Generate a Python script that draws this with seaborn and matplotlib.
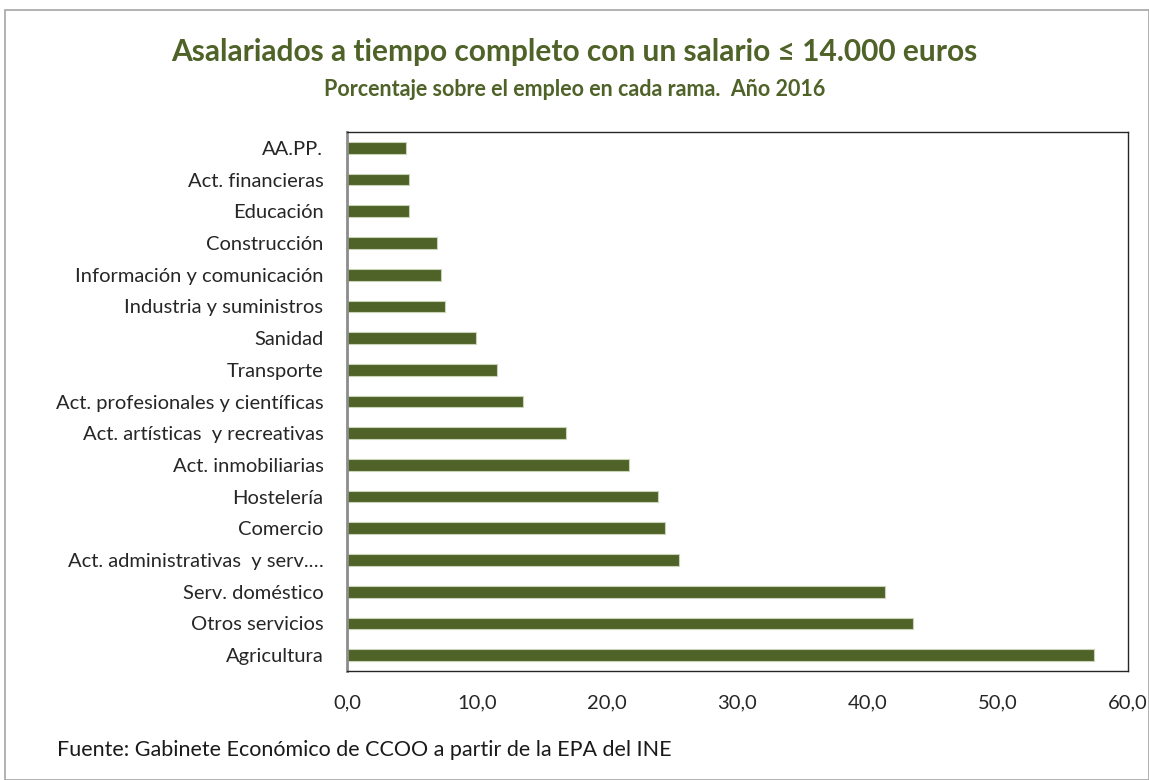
import matplotlib
matplotlib.use('Agg')
import matplotlib.pyplot as plt
from matplotlib.patches import Rectangle
import pandas as pd
import seaborn as sns

ramas = ['AA.PP.', 'Act. financieras', 'Educación', 'Construcción',
         'Información y comunicación', 'Industria y suministros', 'Sanidad',
         'Transporte', 'Act. profesionales y científicas',
         'Act. artísticas  y recreativas', 'Act. inmobiliarias', 'Hostelería',
         'Comercio', 'Act. administrativas  y serv.…', 'Serv. doméstico',
         'Otros servicios', 'Agricultura']
porcentaje = [4.5, 4.8, 4.8, 6.9, 7.2, 7.5, 9.9, 11.5, 13.5, 16.8,
              21.7, 23.9, 24.4, 25.5, 41.3, 43.5, 57.4]
xticks = [0, 10, 20, 30, 40, 50, 60]

GREEN = '#4F6228'

sns.set_style('white')
plt.rcParams['font.family'] = ['Lato', 'DejaVu Sans']

df = pd.DataFrame({'rama': ramas, 'pct': porcentaje})

fig = plt.figure(figsize=(11.49, 7.8), dpi=100)
ax = fig.add_axes([347 / 1149, 1 - 671 / 780, (1128 - 347) / 1149, (671 - 132) / 780])

sns.barplot(data=df, x='pct', y='rama', orient='h', color=GREEN, width=0.37,
            edgecolor='#c9d3b8', linewidth=0.8, saturation=1, ax=ax)
for p in ax.patches:
    p.set_facecolor(GREEN)

ax.set_xlim(0, 60)
ax.set_xticks(xticks)
ax.set_xticklabels([f'{v:.1f}'.replace('.', ',') for v in xticks], fontsize=14.5)
ax.tick_params(axis='y', labelsize=14.5, length=0, pad=17)
ax.tick_params(axis='x', length=0, pad=17)
ax.set_xlabel('')
ax.set_ylabel('')
for s in ax.spines.values():
    s.set_visible(True)
    s.set_color('#262626')
    s.set_linewidth(1.0)
ax.spines['left'].set_color('#8c8c8c')
ax.spines['left'].set_linewidth(2)

fig.text(0.5, 1 - 52 / 780, 'Asalariados a tiempo completo con un salario ≤ 14.000 euros',
         ha='center', va='center', fontsize=21.5, fontweight='bold', color=GREEN)
fig.text(0.5, 1 - 90 / 780, 'Porcentaje sobre el empleo en cada rama.  Año 2016',
         ha='center', va='center', fontsize=15.5, fontweight='bold', color=GREEN)
fig.text(57 / 1149, 1 - 750 / 780, 'Fuente: Gabinete Económico de CCOO a partir de la EPA del INE',
         ha='left', va='center', fontsize=15.5, color='#1a1a1a')

fig.patches.append(Rectangle((5 / 1149, 0), 1 - 5 / 1149, 1 - 10 / 780,
                             transform=fig.transFigure, fill=False,
                             edgecolor='#a6a6a6', linewidth=1.2))

fig.savefig('out.png', dpi=100)
